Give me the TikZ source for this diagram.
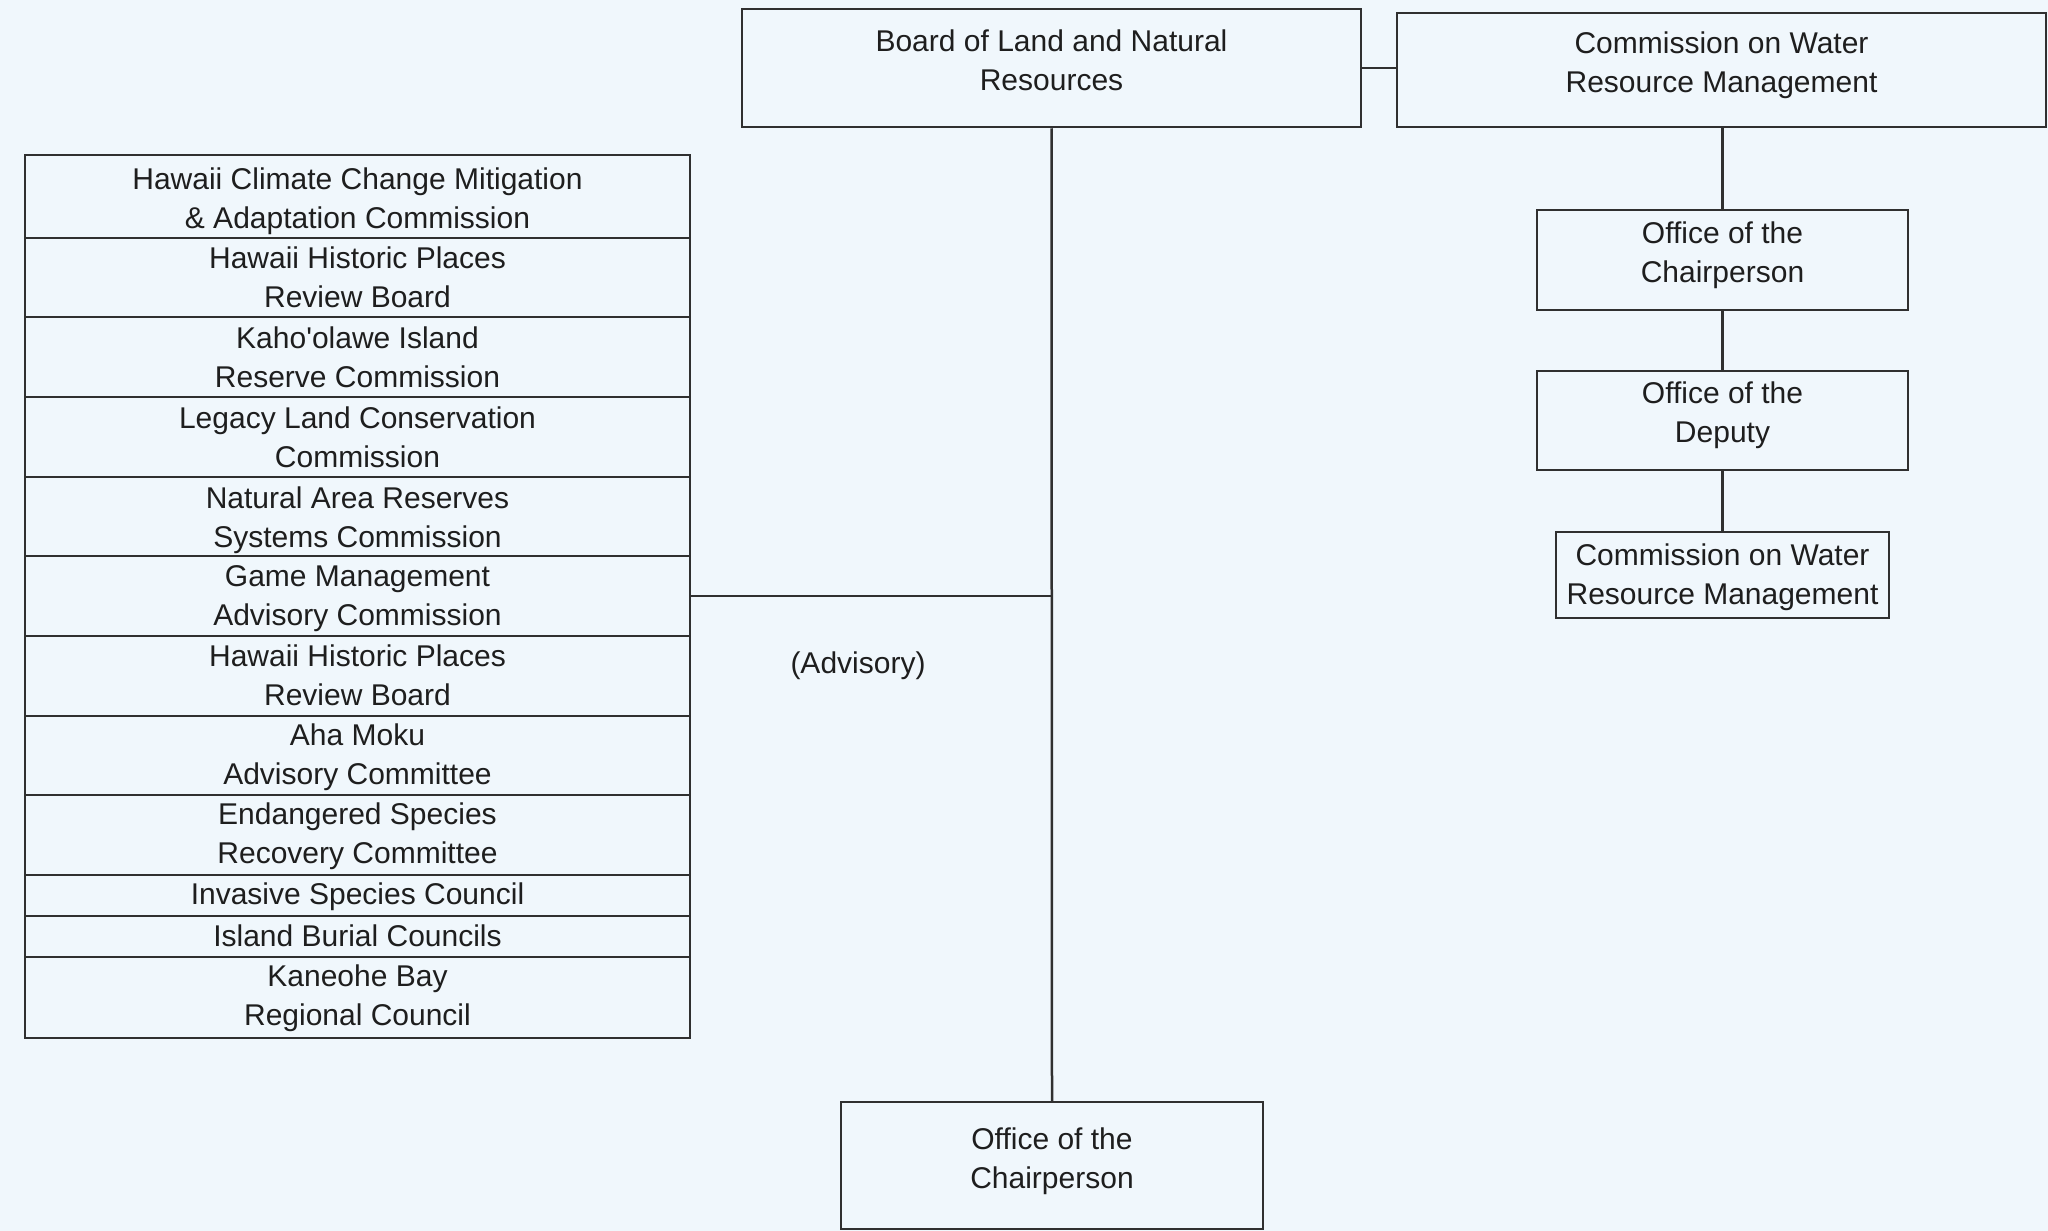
\documentclass[tikz,border=0pt]{standalone}
\usepackage{fontspec}
\setmainfont{Liberation Sans}[Ligatures=TeXOff]
\definecolor{bgc}{HTML}{F0F7FC}
\definecolor{linec}{HTML}{303030}
\definecolor{textc}{HTML}{1E1E1E}
\begin{document}
\begin{tikzpicture}[x=1pt,y=-1pt,
  orgbox/.style={draw=linec, line width=2.5pt, inner sep=0pt},
  listrow/.style={orgbox, minimum width=665pt},
  lbl/.style={text=textc, align=center, inner sep=0pt, font=\fontsize{30}{39}\selectfont},
  txt/.style 2 args={label={[lbl, yshift=#1pt]center:{#2}}},
  link/.style={draw=linec, line width=2.5pt}]
\useasboundingbox[fill=bgc] (0,0) rectangle (2048,1231);

% top row
\node[orgbox, minimum width=619pt, minimum height=118pt,
  txt={8}{Board of Land and Natural\\Resources}] (blnr) at (1051.5,68) {};
\node[orgbox, minimum width=649pt, minimum height=114pt,
  txt={4.5}{Commission on Water\\Resource Management}] (cwrm) at (1721.5,70) {};

% bottom office
\node[orgbox, minimum width=422pt, minimum height=127pt,
  txt={4}{Office of the\\Chairperson}] (ocb) at (1052,1165.5) {};

% right chain
\node[orgbox, minimum width=371pt, minimum height=100pt,
  txt={5}{Office of the\\Chairperson}] (ocr) at (1722.5,260) {};
\node[orgbox, minimum width=371pt, minimum height=99pt,
  txt={5}{Office of the\\Deputy}] (odp) at (1722.5,420.5) {};
\node[orgbox, minimum width=333pt, minimum height=86pt,
  txt={-2.5}{Commission on Water\\Resource Management}] (cws) at (1722.5,575) {};

% advisory list
\node[listrow, minimum height=83pt, txt={-5}{Hawaii Climate Change Mitigation\\\& Adaptation Commission}] (r1) at (357.5,196.5) {};
\node[listrow, minimum height=79pt, txt={0}{Hawaii Historic Places\\Review Board}] (r2) at (357.5,277.5) {};
\node[listrow, minimum height=80pt, txt={0}{Kaho'olawe Island\\Reserve Commission}] (r3) at (357.5,357) {};
\node[listrow, minimum height=80pt, txt={0}{Legacy Land Conservation\\Commission}] (r4) at (357.5,437) {};
\node[listrow, minimum height=79pt, txt={-4}{Natural Area Reserves\\Systems Commission}] (r5) at (357.5,516.5) {};
\node[listrow, minimum height=80pt, txt={-3}{Game Management\\Advisory Commission}] (r6) at (357.5,596) {};
\node[listrow, minimum height=80pt, txt={1}{Hawaii Historic Places\\Review Board}] (r7) at (357.5,676) {};
\node[listrow, minimum height=79pt, txt={-2}{Aha Moku\\Advisory Committee}] (r8) at (357.5,755.5) {};
\node[listrow, minimum height=80pt, txt={-1}{Endangered Species\\Recovery Committee}] (r9) at (357.5,835) {};
\node[listrow, minimum height=41pt, txt={-1}{Invasive Species Council}] (r10) at (357.5,895.5) {};
\node[listrow, minimum height=41pt, txt={1}{Island Burial Councils}] (r11) at (357.5,936.5) {};
\node[listrow, minimum height=81pt, txt={-1}{Kaneohe Bay\\Regional Council}] (r12) at (357.5,997.5) {};

\node[lbl] (adv) at (858,666) {(Advisory)};

% connectors
\coordinate (jn) at (blnr.south |- r6.east);
\draw[link] (blnr.south) -- (ocb.north);
\draw[link] (r6.east) -- (jn);
\draw[link] (blnr.east) -- (blnr.east -| cwrm.west);
\draw[link] (cwrm.south -| ocr.north) -- (ocr.north);
\draw[link] (ocr.south) -- (odp.north);
\draw[link] (odp.south) -- (cws.north);
\end{tikzpicture}
\end{document}
